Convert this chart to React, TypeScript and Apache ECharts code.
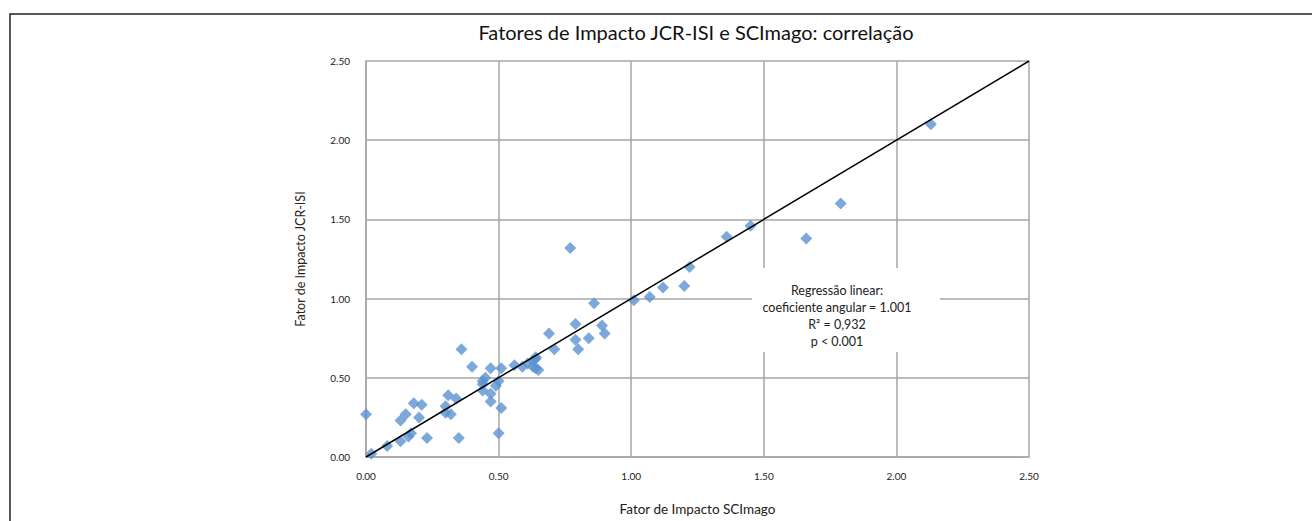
import React, { useEffect, useRef } from "react";
import * as echarts from "echarts";

const scimago: number[] = [
  0.0, 0.02, 0.08, 0.13, 0.13, 0.15, 0.16, 0.17, 0.18, 0.21, 0.2, 0.23,
  0.31, 0.3, 0.3, 0.32, 0.34, 0.35, 0.36, 0.4, 0.44, 0.44, 0.45, 0.44,
  0.47, 0.47, 0.47, 0.49, 0.5, 0.51, 0.5, 0.51, 0.56, 0.59, 0.61, 0.63,
  0.64, 0.64, 0.63, 0.65, 0.64, 0.69, 0.71, 0.77, 0.79, 0.79, 0.8, 0.84,
  0.86, 0.89, 0.9, 1.01, 1.07, 1.12, 1.2, 1.22, 1.36, 1.45, 1.66, 1.79, 2.13,
];
const jcrIsi: number[] = [
  0.27, 0.02, 0.07, 0.1, 0.23, 0.27, 0.13, 0.15, 0.34, 0.33, 0.25, 0.12,
  0.39, 0.32, 0.28, 0.27, 0.37, 0.12, 0.68, 0.57, 0.42, 0.48, 0.5, 0.46,
  0.56, 0.4, 0.35, 0.45, 0.15, 0.56, 0.48, 0.31, 0.58, 0.57, 0.59, 0.61,
  0.62, 0.63, 0.57, 0.55, 0.56, 0.78, 0.68, 1.32, 0.84, 0.74, 0.68, 0.75,
  0.97, 0.83, 0.78, 0.99, 1.01, 1.07, 1.08, 1.2, 1.39, 1.46, 1.38, 1.6, 2.1,
];
const regressionX: number[] = [0, 2.5];
const regressionY: number[] = [0, 2.5];
const tickLabels: string[] = ["0.00", "0.50", "1.00", "1.50", "2.00", "2.50"];
const boxLines: string[] = [
  "Regressão linear:",
  "coeficiente angular = 1.001",
  "R² = 0,932",
  "p < 0.001",
];

const FONT = "Lato, 'Open Sans', sans-serif";

export default function App() {
  const ref = useRef<HTMLDivElement>(null);
  useEffect(() => {
    document.body.style.margin = "0";
    if (!ref.current) return;
    const chart = echarts.init(ref.current, null, { renderer: "svg" });
    const points = scimago.map((x, i) => [x, jcrIsi[i]]);
    const reg = regressionX.map((x, i) => [x, regressionY[i]]);
    const gridColor = "#a6a6a6";
    const fmt = (v: number) => tickLabels[Math.round(v / 0.5)] ?? v.toFixed(2);
    chart.setOption({
      animation: false,
      backgroundColor: "#ffffff",
      textStyle: { fontFamily: FONT },
      title: {
        text: "Fatores de Impacto JCR-ISI e SCImago: correlação",
        left: 696,
        top: 22,
        padding: 0,
        textAlign: "center",
        textStyle: { fontFamily: FONT, fontSize: 20, fontWeight: "normal", color: "#111" },
      },
      grid: { left: 366, top: 61, width: 663, height: 400, containLabel: false },
      xAxis: {
        type: "value",
        min: 0,
        max: 2.5,
        interval: 0.5,
        name: "Fator de Impacto SCImago",
        nameLocation: "middle",
        nameGap: 45,
        nameTextStyle: { fontFamily: FONT, fontSize: 13.5, color: "#222" },
        axisLine: { show: true, lineStyle: { color: gridColor, width: 1.5 } },
        axisTick: { show: false },
        axisLabel: { formatter: fmt, fontSize: 10, color: "#222", margin: 14, fontFamily: FONT },
        splitLine: { show: true, lineStyle: { color: gridColor, width: 1.5 } },
      },
      yAxis: {
        type: "value",
        min: 0,
        max: 2.5,
        interval: 0.5,
        name: "Fator de Impacto JCR-ISI",
        nameLocation: "middle",
        nameGap: 59,
        nameRotate: 90,
        nameTextStyle: { fontFamily: FONT, fontSize: 12.5, color: "#222" },
        axisLine: { show: true, lineStyle: { color: gridColor, width: 1.5 } },
        axisTick: { show: false },
        axisLabel: { formatter: fmt, fontSize: 10, color: "#222", margin: 16, fontFamily: FONT },
        splitLine: { show: true, lineStyle: { color: gridColor, width: 1.5 } },
      },
      series: [
        {
          type: "scatter",
          data: points,
          symbol: "diamond",
          symbolSize: 12,
          itemStyle: { color: "#5b93cf" },
          z: 2,
        },
        {
          type: "line",
          data: reg,
          symbol: "none",
          lineStyle: { color: "#000", width: 1.5 },
          z: 3,
        },
      ],
      graphic: [
        {
          type: "rect",
          shape: { x: 10, y: 14, width: 1320, height: 520 },
          style: { fill: "none", stroke: "#222", lineWidth: 1.5 },
          silent: true,
          z: 0,
        },
        {
          type: "rect",
          shape: { x: 752, y: 268, width: 188, height: 84 },
          style: { fill: "#ffffff", stroke: "none" },
          z: 10,
        },
        ...boxLines.map((t, i) => ({
          type: "text",
          x: 837,
          y: 290 + i * 17,
          style: {
            text: t,
            fontFamily: FONT,
            fontSize: 12.5,
            fill: "#222",
            textAlign: "center",
            textVerticalAlign: "middle",
          },
          z: 11,
        })),
      ],
    });
    return () => chart.dispose();
  }, []);
  return <div ref={ref} style={{ width: 1312, height: 521 }} />;
}
